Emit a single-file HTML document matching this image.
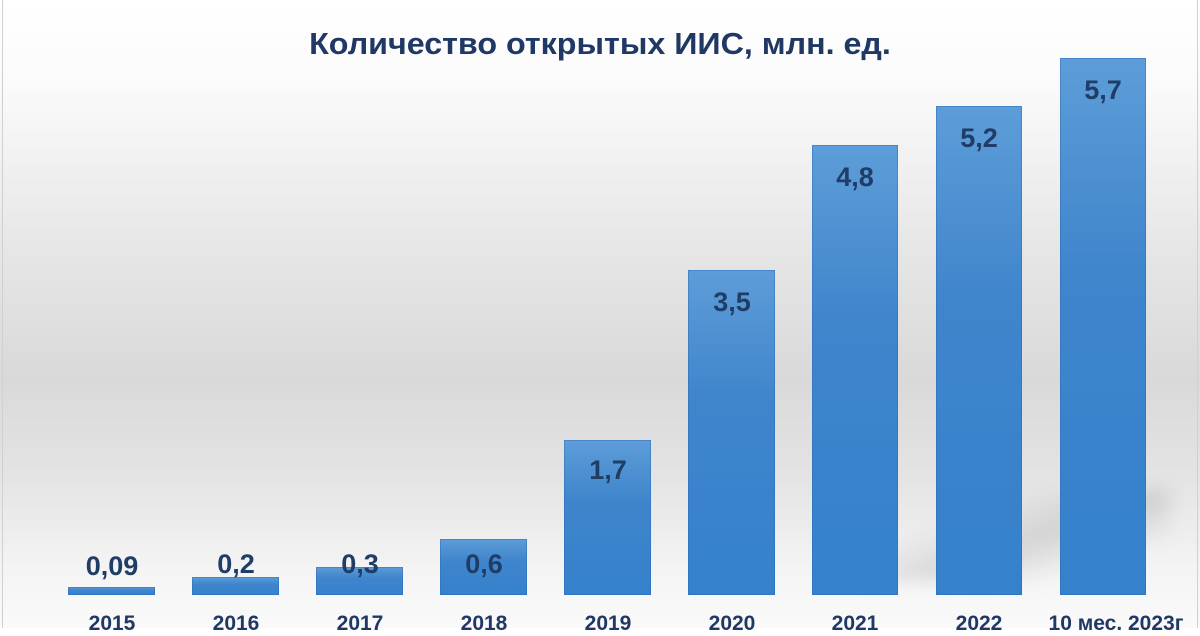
<!DOCTYPE html>
<html><head><meta charset="utf-8"><style>
body{margin:0;width:1200px;height:628px;overflow:hidden;font-family:"Liberation Sans",sans-serif}
#c{position:relative;width:1200px;height:628px;background:linear-gradient(#ffffff 0px,#fbfbfb 80px,#e6e6e6 250px,#d9d9d9 380px,#e4e4e4 480px,#f4f4f4 570px,#fafafa 628px);}
#c:before{content:"";position:absolute;left:2px;top:0;bottom:0;width:1px;background:#d0d0d0}
#c:after{content:"";position:absolute;left:1197px;top:0;bottom:0;width:1px;background:#d0d0d0}
.t{position:absolute;top:26px;left:0;width:1200px;text-align:center;font-weight:bold;font-size:31px;color:#1f3864;transform:scaleX(1.04)}
.b{position:absolute;bottom:33px;background:linear-gradient(#5d9dd8,#3f85cc 40%,#3581cc);box-shadow:inset 0 0 0 1px rgba(40,100,180,.4)}
.v{position:absolute;width:120px;text-align:center;font-weight:bold;font-size:27px;color:#1f3d66}
.x{position:absolute;top:612px;width:160px;text-align:center;font-weight:bold;font-size:21px;color:#1f3864}
.sh{position:absolute;left:860px;top:490px;width:310px;height:90px;background:linear-gradient(160deg,transparent 30%,rgba(150,150,150,.3) 55%,transparent 80%);filter:blur(8px)}
</style></head><body><div id="c">
<div class="sh"></div>
<div class="t">Количество открытых ИИС, млн. ед.</div>
<div class="b" style="left:68px;width:87px;top:587px"></div>
<div class="b" style="left:192px;width:87px;top:577px"></div>
<div class="b" style="left:316px;width:87px;top:567px"></div>
<div class="b" style="left:440px;width:87px;top:539px"></div>
<div class="b" style="left:564px;width:87px;top:440px"></div>
<div class="b" style="left:688px;width:87px;top:270px"></div>
<div class="b" style="left:812px;width:86px;top:145px"></div>
<div class="b" style="left:936px;width:86px;top:106px"></div>
<div class="b" style="left:1060px;width:86px;top:58px"></div>
<div class="v" style="left:52px;top:551px">0,09</div>
<div class="v" style="left:176px;top:549px">0,2</div>
<div class="v" style="left:300px;top:549px">0,3</div>
<div class="v" style="left:424px;top:549px">0,6</div>
<div class="v" style="left:548px;top:455px">1,7</div>
<div class="v" style="left:672px;top:287px">3,5</div>
<div class="v" style="left:795px;top:162px">4,8</div>
<div class="v" style="left:919px;top:123px">5,2</div>
<div class="v" style="left:1043px;top:75px">5,7</div>
<div class="x" style="left:32px">2015</div>
<div class="x" style="left:156px">2016</div>
<div class="x" style="left:280px">2017</div>
<div class="x" style="left:404px">2018</div>
<div class="x" style="left:528px">2019</div>
<div class="x" style="left:652px">2020</div>
<div class="x" style="left:775px">2021</div>
<div class="x" style="left:899px">2022</div>
<div class="x" style="left:1026px;width:180px">10 мес. 2023г</div>
</div></body></html>
